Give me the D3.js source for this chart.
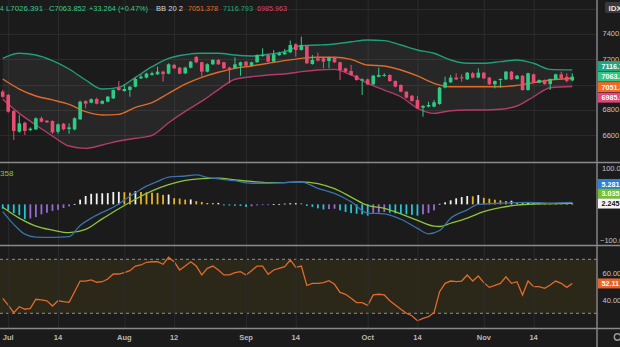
<!DOCTYPE html>
<html><head><meta charset="utf-8">
<script src="https://cdn.jsdelivr.net/npm/d3@7"></script>
<style>
html,body{margin:0;padding:0;background:#1b1b1b;overflow:hidden}
svg{display:block}
text{font-family:"Liberation Sans",Arial,sans-serif}
</style></head><body>
<svg id="c" width="620" height="347"></svg>
<script>
// ---------------- DATA ----------------
const opens = [6945,6919,6792,6629,6700,6642,6648,6735,6716,6713,
 6629,6692,6650,6648,6727,6871,6858,6887,6850,6866,
 6892,6977,6950,6958,6984,7050,7056,7077,7082,7103,
 7087,7156,7134,7090,7134,7219,7177,7103,7161,7195,
 7177,7134,7129,7150,7182,7150,7177,7227,7234,7182,
 7234,7240,7255,7319,7274,7305,7163,7208,7208,7187,
 7216,7177,7129,7108,7071,7032,7042,7003,7063,7069,
 7077,7029,6998,6945,6913,6879,6819,6827,6827,6848,
 6977,7019,7056,7058,7042,7090,7056,7095,7056,7003,
 7037,7042,7103,7045,7071,6958,7082,7016,7037,7005,
 7042,7082,7063,7034];
const highs = [6958,6927,6800,6761,6708,6663,6742,6748,6721,6719,
 6695,6698,6695,6742,6874,6877,6892,6898,6879,6911,
 6963,7029,7003,6990,7053,7082,7095,7103,7142,7111,
 7169,7163,7140,7142,7187,7227,7182,7169,7203,7203,
 7182,7142,7216,7182,7187,7182,7240,7287,7240,7274,
 7261,7282,7348,7327,7379,7313,7234,7253,7213,7221,
 7221,7182,7134,7156,7077,7050,7048,7077,7134,7090,
 7082,7034,7003,6950,6919,6911,6840,6866,6879,6982,
 7063,7077,7090,7082,7100,7100,7129,7100,7061,7034,
 7050,7108,7108,7077,7077,7095,7087,7042,7042,7050,
 7087,7103,7090,7090];
const lows = [6898,6779,6564,6621,6603,6635,6642,6703,6698,6613,
 6613,6640,6613,6640,6721,6813,6853,6845,6845,6861,
 6887,6953,6945,6905,6979,7045,7050,7071,7077,7024,
 7082,7124,7082,7084,7129,7169,7063,7098,7156,7156,
 7124,7011,7124,7071,7145,7145,7171,7221,7177,7177,
 7227,7234,7250,7221,7269,7163,7158,7184,7129,7129,
 7171,7037,7098,7071,7032,6919,6998,6998,7058,7063,
 7024,6979,6940,6892,6866,6808,6748,6821,6821,6842,
 6971,7013,7037,7024,7037,7050,7050,7045,6998,6971,
 6977,7037,7037,7040,6953,6953,7011,7011,7000,6958,
 7037,7045,7019,7026.391];
const closes = [6905,6787,6635,6695,6635,6653,6735,6708,6703,6624,
 6687,6648,6663,6735,6866,6850,6885,6850,6871,6906,
 6958,6958,6966,6984,7045,7063,7087,7090,7103,7084,
 7161,7129,7087,7134,7182,7177,7103,7161,7195,7161,
 7129,7124,7161,7177,7150,7177,7234,7234,7182,7240,
 7248,7255,7313,7274,7313,7169,7195,7190,7182,7216,
 7177,7116,7103,7077,7037,7042,7003,7071,7077,7077,
 7029,6985,6945,6898,6871,6813,6832,6840,6861,6977,
 7019,7056,7042,7050,7095,7056,7095,7050,7003,7029,
 7045,7103,7042,7071,6958,7090,7016,7037,7005,7045,
 7082,7050,7030.588,7063.852];

// Bollinger Bands (20, 2)
const bbIdx    = [0,3,6,9,12,15,18,21,24,27,30,33,36,39,42,45,48,51,54,57,60,63,66,69,72,75,78,81,84,87,90,93,96,99,103];
const bbUpper  = [7208,7248,7234,7190,7124,7037,6966,6979,7058,7142,7208,7237,7248,7248,7234,7227,7240,7261,7308,7313,7321,7339,7353,7348,7313,7274,7248,7195,7169,7169,7182,7195,7169,7121,7116.793];
const bbMiddle = [7045,6966,6911,6880,6845,6787,6761,6766,6821,6858,6932,7005,7058,7098,7129,7148,7169,7190,7208,7216,7216,7200,7155,7148,7116,7069,7011,6984,6984,6984,6984,6995,7016,7037,7051.378];
const bbLower  = [6885,6774,6682,6595,6516,6498,6524,6556,6577,6600,6700,6790,6870,6961,7043,7063,7077,7084,7103,7116,7121,7077,7011,6958,6905,6814,6774,6795,6800,6800,6806,6832,6905,6976,6985.963];

// Oscillator panel
const blueIdx = [0,2,4,6,9,12,14,16,18,20,22,24,26,28,30,33,35,37,42,45,48,51,54,57,60,63,66,69,72,75,77,79,81,84,86,90,95,99,103];
const blueVals = [-20,-55,-82,-90,-91,-89,-58,-38,-22,-8,12,32,50,63,75,78,81,74,65,58,58,60,61,44,30,7,-24,-26,-41,-66,-81,-72,-38,-15,0,3,5.7,3,5.281];
const greenIdx = [0,3,6,9,12,15,18,21,24,27,30,33,36,39,42,45,48,51,54,57,60,63,66,69,72,75,78,79,81,84,87,90,93,96,103];
const greenVals = [-8,-38,-60,-71,-78,-69,-40,-12,14,37,54,66,71,72,67,63,60,60,62,57,43,20,-3,-11,-26,-44,-60,-61,-52,-38,-20,-9,-2,1,3.035];
const histVals = [-12,-16.5,-24,-30,-41,-39,-35,-27.5,-23,-18,
 -15,-10,-5.5,1,13,23,29,30,30.5,31,
 34,34.5,33.5,32,36,34,33,32,31.5,26,
 27,17,16,13,13.5,9,6.4,3.7,3.5,4,
 -3,-3.2,-4,-4.5,-7,-5.5,-3,-2,-1,0.5,
 1,2,3,3.2,2.5,-4.5,-7,-11,-14,-13,
 -12,-16.5,-21,-24,-26,-27.5,-31,-26,-23,-21,
 -23,-25,-26,-27.5,-29,-31,-27.5,-24,-16.5,1.5,
 5.5,11,16.5,20,23,22,25.7,18,15.6,12.8,
 11,9,10,6.4,3.7,4.6,3.7,2.8,1.8,2.8,
 3.7,2.8,1.8,2.245];

// RSI panel
const rsiVals = [41.1,36.1,30.5,34.9,33,33.7,40.4,39.9,39.3,35.4,
 39.3,38.6,38.1,46,53.9,53.9,54.7,53,53.4,55.4,
 59.1,59.1,60.1,61.6,65,65.8,67.8,68.2,68.2,66.3,
 71.5,68.2,62.1,65,68.2,65,58.4,63.3,65,62.1,
 58.4,58.4,60.1,60.8,58.4,61.6,65,65,58.9,62.1,
 63.3,64.5,69.5,64.1,65,50.6,52.2,52.2,52.7,54.2,
 51.5,45.5,44.1,41.1,37.9,37.9,35.9,43.6,44.1,43.6,
 39.3,36.1,33,30,28.2,24.5,26.3,27.5,30.5,46,
 52.2,53.9,53.4,53.9,58.4,53.9,57.6,52.7,49.2,50.7,
 52.2,57.1,52.2,53.4,43.6,53.9,49.7,49.7,48.5,51,
 53.9,52.2,49.2,52.11];

// Axis ticks
const tickIdx = [1,10,22,31,44,53,66,75,87,96];
const tickLabels = ["Jul","14","Aug","12","Sep","14","Oct","14","Nov","14"];
const priceTicks = [6600,6800,7000,7200,7400];
const priceGrid = [6600,6800,7000,7200,7400,7600];
const oscTicks = [100,-100];
const rsiTicks = [60,40];
const rsiBands = [70,30];

// ---------------- DRAW ----------------
const svg = d3.select("#c");
const PLOT_R = 597;
const C = {bg:"#1b1b1b", grid:"#2b2b2b", up:"#2fcb85", down:"#ea4b72",
  bbU:"#1f9e7b", bbM:"#e0692a", bbL:"#b43a6b", sep:"#8a8a8a", axisText:"#c4c4c4"};

const x = d3.scaleLinear().domain([0, opens.length-1]).range([2.7, 572.3]);
const yP = d3.scaleLinear().domain([6600,7400]).range([135.4, 34.0]);
const yO = d3.scaleLinear().domain([-100,100]).range([240.7, 168.0]);
const yR = d3.scaleLinear().domain([30,70]).range([313.3, 259.3]);

svg.append("rect").attr("width",620).attr("height",347).attr("fill",C.bg);

const defs = svg.append("defs");
defs.append("clipPath").attr("id","cm").append("rect").attr("x",0).attr("y",0).attr("width",PLOT_R).attr("height",161.5);
defs.append("clipPath").attr("id","co").append("rect").attr("x",0).attr("y",163.5).attr("width",PLOT_R).attr("height",81);
defs.append("clipPath").attr("id","cr").append("rect").attr("x",0).attr("y",246.5).attr("width",PLOT_R).attr("height",81);

// RSI band background
const rsiG = svg.append("g").attr("clip-path","url(#cr)");
rsiG.append("rect").attr("x",0).attr("width",PLOT_R)
  .attr("y", yR(rsiBands[0])).attr("height", yR(rsiBands[1]) - yR(rsiBands[0]))
  .attr("fill","#2c2819");

// grid
const grid = svg.append("g");
grid.selectAll("line.v").data(tickIdx).join("line")
  .attr("x1",d=>x(d)+0.5).attr("x2",d=>x(d)+0.5).attr("y1",0).attr("y2",328)
  .attr("stroke",C.grid).attr("stroke-width",1);
grid.selectAll("line.h").data(priceGrid).join("line")
  .attr("x1",0).attr("x2",PLOT_R).attr("y1",d=>Math.round(yP(d))+0.5).attr("y2",d=>Math.round(yP(d))+0.5)
  .attr("stroke",C.grid).attr("stroke-width",1);

// ---- main panel ----
const mainG = svg.append("g").attr("clip-path","url(#cm)");
const bbPts = bbIdx.map((d,i)=>({i:d,u:bbUpper[i],m:bbMiddle[i],l:bbLower[i]}));
mainG.append("path").datum(bbPts)
  .attr("d", d3.area().x(d=>x(d.i)).y0(d=>yP(d.l)).y1(d=>yP(d.u)).curve(d3.curveMonotoneX))
  .attr("fill","rgba(255,255,255,0.055)");
[["u",C.bbU],["m",C.bbM],["l",C.bbL]].forEach(([k,col])=>{
  mainG.append("path").datum(bbPts)
    .attr("d", d3.line().x(d=>x(d.i)).y(d=>yP(d[k])).curve(d3.curveMonotoneX))
    .attr("fill","none").attr("stroke",col).attr("stroke-width",1.4);
});
const candles = opens.map((o,i)=>({i,o,h:highs[i],l:lows[i],c:closes[i]}));
const cg = mainG.selectAll("g.cd").data(candles).join("g");
cg.append("line").attr("x1",d=>x(d.i)).attr("x2",d=>x(d.i))
  .attr("y1",d=>yP(d.h)).attr("y2",d=>yP(d.l))
  .attr("stroke",d=>d.c>=d.o?C.up:C.down).attr("stroke-width",1);
cg.append("rect").attr("x",d=>x(d.i)-1.8).attr("width",3.6)
  .attr("y",d=>yP(Math.max(d.o,d.c)))
  .attr("height",d=>Math.max(1,Math.abs(yP(d.o)-yP(d.c))))
  .attr("fill",d=>d.c>=d.o?C.up:C.down);

// legend (widths fitted to the reference layout)
const leg = [
  {t:"4", x:0, w:3.5, c:"#3ec48a"}, {t:"L7026.391", x:6, w:37, c:"#3ec48a"}, {t:"C7063.852", x:49, w:37, c:"#3ec48a"},
  {t:"+33.264 (+0.47%)", x:89, w:59, c:"#3ec48a"}, {t:"BB 20 2", x:156, w:27, c:"#d4d4d4"},
  {t:"7051.378", x:188, w:30, c:"#e8692a"}, {t:"7116.793", x:223, w:30, c:"#23a57e"}, {t:"6985.963", x:257, w:30, c:"#d3457a"}];
svg.selectAll("text.leg").data(leg).join("text").attr("x",d=>d.x).attr("y",10.5)
  .attr("font-size",8).attr("fill",d=>d.c)
  .attr("textLength",d=>d.w).attr("lengthAdjust","spacingAndGlyphs").text(d=>d.t);

// ---- oscillator panel ----
const oscG = svg.append("g").attr("clip-path","url(#co)");
function histColor(v,i){
  const p = i>0 ? histVals[i-1] : v - 1e-6 * Math.sign(v);
  if (v >= 0) return v >= p ? "#f2f2f2" : "#e8b321";
  return v <= p ? "#27c2d4" : "#9a6ad0";
}
oscG.selectAll("rect.h").data(histVals).join("rect")
  .attr("x",(d,i)=>x(i)-0.9).attr("width",1.8)
  .attr("y",d=>Math.min(yO(d),yO(0))).attr("height",d=>Math.max(0.8,Math.abs(yO(d)-yO(0))))
  .attr("fill",(d,i)=>histColor(d,i));
oscG.append("path").datum(greenIdx.map((d,i)=>[d,greenVals[i]]))
  .attr("d", d3.line().x(d=>x(d[0])).y(d=>yO(d[1])).curve(d3.curveMonotoneX))
  .attr("fill","none").attr("stroke","#8cc43c").attr("stroke-width",1.3);
oscG.append("path").datum(blueIdx.map((d,i)=>[d,blueVals[i]]))
  .attr("d", d3.line().x(d=>x(d[0])).y(d=>yO(d[1])).curve(d3.curveMonotoneX))
  .attr("fill","none").attr("stroke","#3a72ad").attr("stroke-width",1.3);
svg.append("text").attr("x",0).attr("y",175.5).attr("font-size",8).attr("fill","#8cc43c").text("358");

// ---- RSI panel ----
rsiG.selectAll("line.b").data(rsiBands).join("line")
  .attr("x1",0).attr("x2",PLOT_R).attr("y1",d=>yR(d)).attr("y2",d=>yR(d))
  .attr("stroke","#8f8f8f").attr("stroke-width",1).attr("stroke-dasharray","3,3");
rsiG.append("path").datum(rsiVals)
  .attr("d", d3.line().x((d,i)=>x(i)).y(d=>yR(d)))
  .attr("fill","none").attr("stroke","#e06a2c").attr("stroke-width",1.3);

// ---- separators ----
[162.5,245.5,328.5].forEach(yy=>{
  svg.append("line").attr("x1",0).attr("x2",620).attr("y1",yy).attr("y2",yy)
    .attr("stroke",C.sep).attr("stroke-width",1.6);
});
svg.append("line").attr("x1",597).attr("x2",597).attr("y1",0).attr("y2",347)
  .attr("stroke",C.sep).attr("stroke-width",1.4);

// ---- value boxes layout ----
function stack(items, anchor, h){
  items.sort((a,b)=>a.y-b.y);
  const ai = items.findIndex(d=>d.key===anchor);
  items[ai].p = items[ai].y;
  for(let i=ai-1;i>=0;i--) items[i].p = Math.min(items[i].y, items[i+1].p - h);
  for(let i=ai+1;i<items.length;i++) items[i].p = Math.max(items[i].y, items[i-1].p + h);
  return items;
}
const n = opens.length-1;
const mainBoxes = stack([
  {key:"u", v:bbUpper[bbUpper.length-1], y:yP(bbUpper[bbUpper.length-1]), bg:"#1fa57f", fg:"#ffffff"},
  {key:"c", v:closes[n], y:yP(closes[n]), bg:"#33c483", fg:"#ffffff"},
  {key:"m", v:bbMiddle[bbMiddle.length-1], y:yP(bbMiddle[bbMiddle.length-1]), bg:"#f26a24", fg:"#ffffff"},
  {key:"l", v:bbLower[bbLower.length-1], y:yP(bbLower[bbLower.length-1]), bg:"#e0457e", fg:"#ffffff"}
], "c", 10.5);
const oscBoxes = stack([
  {key:"b", v:blueVals[blueVals.length-1], y:yO(blueVals[blueVals.length-1]), bg:"#2f7fd6", fg:"#ffffff"},
  {key:"g", v:greenVals[greenVals.length-1], y:yO(greenVals[greenVals.length-1]), bg:"#74c130", fg:"#ffffff"},
  {key:"h", v:histVals[n], y:yO(histVals[n]), bg:"#f4f4f4", fg:"#111111"}
], "h", 9.8);

// ---- right axes (labels hidden behind value boxes are dropped, as on the chart) ----
const visTicks = priceTicks.filter(t => mainBoxes.every(b => Math.abs(b.p - yP(t)) > 6));
svg.selectAll("text.pt").data(visTicks).join("text")
  .attr("x",602.5).attr("y",d=>yP(d)+2.4).attr("font-size",7.5).attr("fill",C.axisText)
  .text(d=>d3.format(".3f")(d));
svg.selectAll("text.ot").data(oscTicks).join("text")
  .attr("x",d=>d<0?600:602).attr("y",d=>yO(d)+2.7).attr("font-size",7.5).attr("fill",C.axisText)
  .text(d=>d3.format(".2f")(d));
svg.selectAll("text.rt").data(rsiTicks).join("text")
  .attr("x",602.5).attr("y",d=>yR(d)+2.7).attr("font-size",7.5).attr("fill",C.axisText)
  .text(d=>d3.format(".2f")(d));

function drawBoxes(items){
  const g = svg.append("g");
  items.forEach(d=>{
    g.append("rect").attr("x",598).attr("y",d.p-5).attr("width",24).attr("height",10).attr("fill",d.bg);
    g.append("text").attr("x",601.5).attr("y",d.p+2.6).attr("font-size",7.2).attr("font-weight","bold")
      .attr("fill",d.fg).text(d3.format(".3f")(d.v));
  });
}
drawBoxes(mainBoxes);
drawBoxes(oscBoxes);
{
  const g = svg.append("g"); const yy = yR(rsiVals[n]);
  g.append("rect").attr("x",598).attr("y",yy-5).attr("width",24).attr("height",10).attr("fill","#e8632a");
  g.append("text").attr("x",601.5).attr("y",yy+2.6).attr("font-size",7.2).attr("font-weight","bold")
    .attr("fill","#fff").text(d3.format(".2f")(rsiVals[n]));
}

// top-right symbol box
svg.append("rect").attr("x",605).attr("y",2).attr("width",20).attr("height",11).attr("rx",2).attr("fill","#3a3a3a");
svg.append("text").attr("x",608.5).attr("y",10.5).attr("font-size",8).attr("font-weight","bold").attr("fill","#e6e6e6").text("IDX");

// ---- date axis ----
svg.selectAll("text.dt").data(tickIdx).join("text")
  .attr("x",d=>x(d)).attr("y",340).attr("text-anchor","middle")
  .attr("font-size",7.5).attr("font-weight","bold").attr("fill","#b8b8b8")
  .text((d,i)=>tickLabels[i]);
// settings gear (partially visible)
svg.append("circle").attr("cx",617.5).attr("cy",337).attr("r",3.2).attr("fill","none").attr("stroke","#9a9a9a").attr("stroke-width",1.4);
</script>
</body></html>
